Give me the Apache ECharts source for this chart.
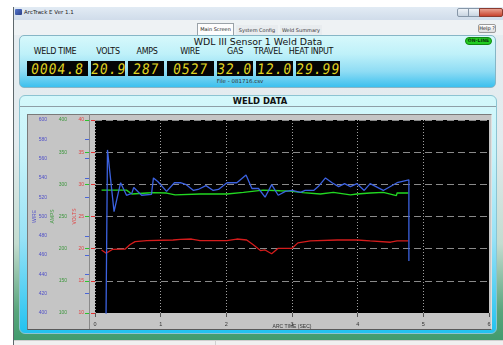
<!DOCTYPE html>
<html><head><meta charset="utf-8">
<script src="https://cdn.jsdelivr.net/npm/echarts@6/dist/echarts.min.js"></script>
<style>
html,body{margin:0;padding:0;width:503px;height:345px;overflow:hidden;background:#fff;font-family:"DejaVu Sans","Liberation Sans",sans-serif;}
.a{position:absolute;box-sizing:border-box;}
.lbl{position:absolute;width:70px;text-align:center;font-size:8px;color:#111;top:47px;letter-spacing:-0.3px;}
.dig{position:absolute;top:61px;height:15px;background:#050505;color:#e0d622;font-family:"DejaVu Sans Mono",monospace;font-size:13px;line-height:15px;text-align:center;letter-spacing:1px;}
.dig span{display:inline-block;transform:skewX(-7deg) scaleY(1.12);}
</style></head><body>
<div class="a" style="left:13px;top:7px;width:490px;height:338px;background:linear-gradient(#e6edf1 0%,#e3ebee 40%,#c4dcd0 70%,#58a57c 90%,#3e9a6c 100%);border-left:1px solid #5e686c;"></div>
<div class="a" style="left:14px;top:7px;width:489px;height:13px;background:linear-gradient(#e2ebf4,#d0dcea);"></div>
<div class="a" style="left:15px;top:9px;width:7px;height:6px;background:linear-gradient(135deg,#5577cc,#2a3f88);border-radius:1px;"></div>
<div class="a" id="wtitle" style="left:24px;top:9px;font-size:5.5px;color:#222;white-space:nowrap;"></div>
<div class="a" style="left:457px;top:8px;width:12px;height:9px;border:1px solid #8797a8;border-radius:2px 0 0 2px;background:linear-gradient(#eef3f8,#c9d5e2);"></div>
<div class="a" style="left:468px;top:8px;width:12px;height:9px;border:1px solid #8797a8;background:linear-gradient(#eef3f8,#c9d5e2);"></div>
<div class="a" style="left:479px;top:8px;width:24px;height:9px;border:1px solid #8a3b30;border-radius:0 2px 2px 0;background:linear-gradient(#e8a090,#c8432e);"></div>
<div class="a" style="left:14px;top:20px;width:489px;height:15px;background:#eef2f4;"></div>
<div class="a" style="left:197px;top:23px;width:37px;height:12px;background:#fdfdfd;border:1px solid #9aa2a8;border-bottom:none;font-size:5px;line-height:11px;text-align:center;color:#222;" id="tab0"></div>
<div class="a" style="left:236px;top:25px;width:42px;height:10px;background:#e8ecef;font-size:5px;line-height:10px;text-align:center;color:#333;" id="tab1"></div>
<div class="a" style="left:280px;top:25px;width:42px;height:10px;background:#e8ecef;font-size:5px;line-height:10px;text-align:center;color:#333;" id="tab2"></div>
<div class="a" style="left:478px;top:24px;width:18px;height:9px;border:1px solid #9a9a9a;border-radius:2px;background:linear-gradient(#ffffff,#dcdcdc);font-size:5px;line-height:7px;text-align:center;color:#222;">Help ?</div>
<div class="a" style="left:19px;top:35px;width:477px;height:53px;border-radius:5px;border:1px solid #86b6c6;background:linear-gradient(#d6f8fb 0%,#bff1f9 35%,#8edcf4 70%,#3cc0ee 100%);"></div>
<div class="a" id="htitle" style="left:150px;top:36px;width:216px;text-align:center;font-size:9.4px;color:#111;"></div>
<div class="a" style="left:465px;top:37px;width:27px;height:8px;border-radius:4px;background:#22cc22;border:1px solid #118811;font-size:4.6px;font-weight:bold;line-height:6px;text-align:center;color:#0b3a0b;">ON-LINE</div>
<div id="header"></div>
<div class="a" id="ftxt" style="left:190px;top:78px;width:100px;text-align:center;font-size:5.5px;color:#333;"></div>
<div class="a" style="left:19px;top:95px;width:478px;height:239px;border-radius:6px;border:1px solid #8cc4d2;background:linear-gradient(#d4f8fb 0%,#c6f3fa 25%,#98e2f6 60%,#22c2f0 100%);"></div>
<div class="a" style="left:150px;top:96px;width:220px;text-align:center;font-size:8.4px;font-weight:bold;color:#111;">WELD DATA</div>
<div class="a" style="left:20px;top:106px;width:476px;height:1px;background:#8e9ea6;"></div>
<div class="a" style="left:27px;top:114px;width:465px;height:216px;background:#c5c5c5;border:1px solid #7a7a7a;border-right-color:#e0e0e0;border-bottom-color:#5a5a5a;"></div>
<div class="a" style="left:89px;top:114px;width:1px;height:215px;background:#8a8a8a;"></div>
<div class="a" style="left:14px;top:340px;width:489px;height:5px;background:#f0f0f0;border-top:1px solid #cfcfcf;"></div>
<div class="a" style="left:215px;top:340px;width:1px;height:5px;background:#d0d0d0;"></div>
<div id="chart" class="a" style="left:0;top:0;width:503px;height:345px;"></div>
<script>
// ---- data ----
const windowTitle = "ArcTrack E Ver 1.1";
const tabNames = ["Main Screen", "System Config", "Weld Summary"];
const panelTitle = "WDL III Sensor 1 Weld Data";
const fileName = "File - 081716.csv";
const displayLabels = ["WELD TIME", "VOLTS", "AMPS", "WIRE", "GAS", "TRAVEL", "HEAT INPUT"];
const displayValues = ["0004.8", "20.9", "287", "0527", "32.0", "12.0", "29.99"];

const wireTime   = [0.168,0.19,0.29,0.39,0.48,0.56,0.59,0.71,0.86,0.89,0.96,1.09,1.21,1.30,1.39,1.50,1.57,1.69,1.80,1.88,2.01,2.16,2.30,2.39,2.49,2.59,2.69,2.79,2.90,3.00,3.13,3.20,3.33,3.40,3.51,3.61,3.71,3.80,3.89,3.99,4.10,4.19,4.39,4.60,4.78,4.78];
const wireValues = [398,569,505,535,522,524,530,522,523,540,536,526,535,535,533,527,528,532,527,528,535,535,543,529,529,520,533,522,526,527,525,527,527,531,540,535,531,534,531,534,527,534,527,535,538,454];

const ampsTime   = [0.10,0.48,0.56,0.79,0.88,1.09,1.22,1.60,2.01,2.26,2.56,2.82,2.97,3.17,3.43,3.63,3.89,3.99,4.19,4.39,4.59,4.60,4.77];
const ampsValues = [291,291,285,286.5,287,286.5,283.5,285,285,287.5,291,290,289.5,287,285,287.5,283.5,285,286.5,287.5,282.5,286.5,286.5];

const voltsTime   = [0.10,0.17,0.27,0.46,0.53,0.61,0.79,1.19,1.30,1.47,1.60,2.01,2.16,2.31,2.41,2.52,2.59,2.69,2.79,3.00,3.09,3.28,3.69,3.99,4.19,4.50,4.60,4.77];
const voltsValues = [19.8,19.3,19.9,19.95,20.6,21.1,21.25,21.35,21.45,21.5,21.25,21.25,21.5,21.35,20.6,19.7,19.8,19.2,20.05,20.05,20.9,21.2,21.35,21.35,21.2,21.0,21.2,21.2];

// ---- chrome text ----
document.getElementById('wtitle').textContent = windowTitle;
['tab0','tab1','tab2'].forEach((id,i)=>document.getElementById(id).textContent = tabNames[i]);
document.getElementById('htitle').textContent = panelTitle;
document.getElementById('ftxt').textContent = fileName;
const labelCenters = [55,108,147,190,235,268,311];
const boxes = [[27,61],[91,34],[128,36],[167,47],[217,36],[256,37],[296,44]];
const hdr = document.getElementById('header');
displayLabels.forEach((t,i)=>{
  const d = document.createElement('div'); d.className='lbl';
  d.style.left = (labelCenters[i]-35)+'px'; d.textContent = t; hdr.appendChild(d);
  const b = document.createElement('div'); b.className='dig';
  b.style.left = boxes[i][0]+'px'; b.style.width = boxes[i][1]+'px';
  const s = document.createElement('span'); s.textContent = displayValues[i]; b.appendChild(s);
  hdr.appendChild(b);
});

// ---- chart ----
const zip = (a,b)=>a.map((x,i)=>[x,b[i]]);
const chart = echarts.init(document.getElementById('chart'), null, {renderer:'canvas'});
const yBase = (min,max,interval,color,tickColor,margin,name,gap,split)=>({
  type:'value', min:min, max:max, interval:interval, position:'left', offset:6,
  axisLine:{show:false},
  axisTick:{show:true, length:4, lineStyle:{color:tickColor, width:1}},
  axisLabel:{fontSize:5, color:color, margin:margin, fontFamily:'Liberation Sans'},
  splitLine:{show:split, showMinLine:false, lineStyle:{color:'#8a8a8a', type:[7,4], width:1}},
  name:name, nameLocation:'middle', nameGap:gap, nameRotate:90, nameMoveOverlap:false,
  nameTextStyle:{fontSize:5, color:color, fontFamily:'Liberation Sans'}
});
chart.setOption({
  animation:false,
  grid:{left:95, top:120, right:14, bottom:32, show:true, backgroundColor:'#000', borderWidth:0, outerBoundsMode:'none', containLabel:false},
  xAxis:{type:'value', min:0, max:6, interval:1,
    axisLine:{show:false},
    axisTick:{show:true, length:4, lineStyle:{color:'#555'}},
    axisLabel:{fontSize:5.5, color:'#333', margin:8, fontFamily:'Liberation Sans'},
    splitLine:{show:true, showMaxLine:false, lineStyle:{color:'#a0a0a0', type:[1,2], width:1}},
    name:'ARC TIME (SEC)', nameLocation:'middle', nameGap:11, nameMoveOverlap:false,
    nameTextStyle:{fontSize:5, color:'#333', fontFamily:'Liberation Sans'}},
  yAxis:[
    yBase(10,40,5,'#e04444','#e03030',5,'VOLTS',11.5,true),
    yBase(400,600,20,'#5050c8','#4a66d8',42,'WIRE',51.5,false),
    yBase(100,400,50,'#3c963c','#2ec42e',22,'AMPS',33.5,false)
  ],
  series:[
    {type:'line', yAxisIndex:0, data:zip(voltsTime,voltsValues), symbol:'none', lineStyle:{color:'#d41c1c', width:1.3}},
    {type:'line', yAxisIndex:2, data:zip(ampsTime,ampsValues), symbol:'none', lineStyle:{color:'#22d822', width:1.3}},
    {type:'line', yAxisIndex:1, data:zip(wireTime,wireValues), symbol:'none', lineStyle:{color:'#3c62e0', width:1.3}}
  ]
});
</script>
</body></html>
